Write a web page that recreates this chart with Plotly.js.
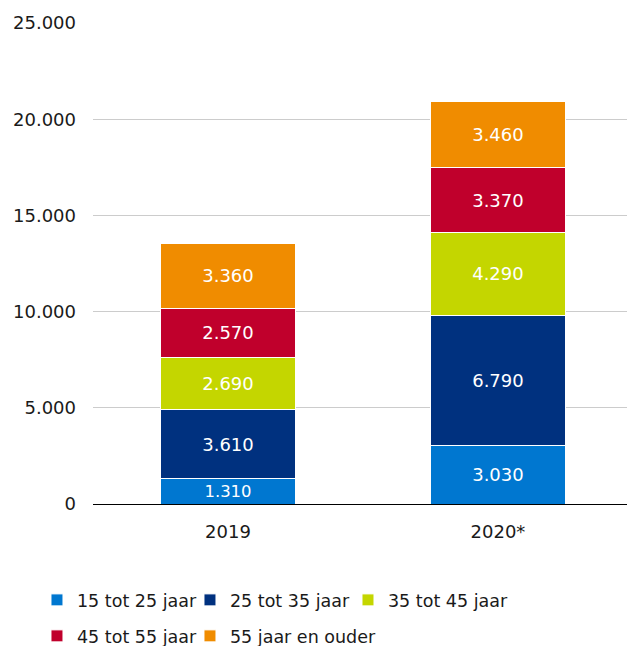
<!DOCTYPE html>
<html>
<head>
<meta charset="utf-8">
<script src="https://cdn.plot.ly/plotly-3.0.1.min.js"></script>
<style>html,body{margin:0;padding:0;background:#fff;}#chart{width:627px;height:646px;}</style>
</head>
<body>
<div id="chart"></div>
<script>
const categories = ["2019", "2020*"];
const seriesNames = ["15 tot 25 jaar", "25 tot 35 jaar", "35 tot 45 jaar", "45 tot 55 jaar", "55 jaar en ouder"];
const age15to25 = [1310, 3030];
const age25to35 = [3610, 6790];
const age35to45 = [2690, 4290];
const age45to55 = [2570, 3370];
const age55plus = [3360, 3460];
const yTicks = [0, 5000, 10000, 15000, 20000, 25000];

const seriesValues = [age15to25, age25to35, age35to45, age45to55, age55plus];
const colors = ["#0077d0", "#00317f", "#c4d600", "#c0002c", "#f08c00"];
const legendIds = ["legend", "legend2", "legend3", "legend4", "legend5"];

const traces = seriesValues.map((vals, i) => ({
  type: "bar",
  name: seriesNames[i],
  legend: legendIds[i],
  x: categories,
  y: vals,
  width: 0.5,
  marker: {color: colors[i], line: {color: "#ffffff", width: 1}},
  texttemplate: "%{y:,}",
  textposition: "inside",
  insidetextanchor: "middle",
  textfont: {color: "#ffffff", size: 18, family: "DejaVu Sans"},
  hoverinfo: "none"
}));

const legendCommon = {
  orientation: "h",
  xanchor: "left",
  yanchor: "middle",
  itemwidth: 30,
  bgcolor: "rgba(0,0,0,0)",
  borderwidth: 0,
  font: {size: 17.5, family: "DejaVu Sans", color: "#1a1a1a"}
};
const row1 = -0.1996, row2 = -0.2744;
const col1 = -0.1049, col2 = 0.1816, col3 = 0.4775;

const layout = {
  width: 627,
  height: 646,
  margin: {l: 93, r: 0, t: 23, b: 142, autoexpand: false},
  barmode: "stack",
  separators: ",.",
  paper_bgcolor: "#ffffff",
  plot_bgcolor: "#ffffff",
  font: {family: "DejaVu Sans", size: 18, color: "#1a1a1a"},
  xaxis: {
    type: "category",
    range: [-0.5, 1.478],
    showgrid: false,
    showline: true,
    linecolor: "#000000",
    linewidth: 1,
    ticks: "",
    tickfont: {size: 18},
    ticklabelstandoff: 11
  },
  yaxis: {
    range: [0, 25000],
    tickvals: yTicks,
    tickformat: ",d",
    showgrid: true,
    gridcolor: "#cccccc",
    gridwidth: 1,
    zeroline: false,
    showline: false,
    ticks: "",
    ticklabelstandoff: 16,
    tickfont: {size: 18}
  },
  showlegend: true,
  legend: Object.assign({}, legendCommon, {x: col1, y: row1}),
  legend2: Object.assign({}, legendCommon, {x: col2, y: row1}),
  legend3: Object.assign({}, legendCommon, {x: col3, y: row1}),
  legend4: Object.assign({}, legendCommon, {x: col1, y: row2}),
  legend5: Object.assign({}, legendCommon, {x: col2, y: row2})
};

Plotly.newPlot("chart", traces, layout, {displayModeBar: false, staticPlot: true});
</script>
</body>
</html>
